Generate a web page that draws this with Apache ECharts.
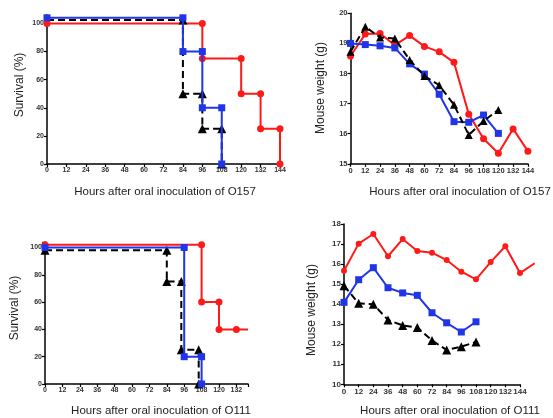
<!DOCTYPE html>
<html>
<head>
<meta charset="utf-8">
<script src="https://cdn.jsdelivr.net/npm/echarts@6/dist/echarts.min.js"></script>
<style>
  html, body { margin: 0; padding: 0; background: #fff; }
  #chart { width: 553px; height: 418px; }
</style>
</head>
<body>
<div id="chart"></div>
<script>
// survival O157 (step corners)
const s157RedT = [0, 96, 96, 120, 120, 132, 132, 144, 144]
const s157RedV = [100, 100, 75, 75, 50, 50, 25, 25, 0]
const s157BlueT = [0, 84, 84, 96, 96, 108, 108]
const s157BlueV = [104, 104, 80, 80, 40, 40, 0]
const s157BlackT = [0, 84, 84, 96, 96, 108, 108]
const s157BlackV = [102.5, 102.5, 50, 50, 25, 25, 0]

// survival O111
const s111RedT = [0, 108, 108, 120, 120, 132, 140]
const s111RedV = [102, 102, 60, 60, 40, 40, 40]
const s111BlueT = [0, 96, 96, 108, 108]
const s111BlueV = [100, 100, 20, 20, 0]
const s111BlackT = [0, 84, 84, 94, 94, 106, 106]
const s111BlackV = [98, 98, 75, 75, 25, 25, 0]

// mouse weight O157
const w157Hours = [0, 12, 24, 36, 48, 60, 72, 84, 96, 108, 120, 132, 144]
const w157Red = [18.58, 19.31, 19.33, 18.94, 19.26, 18.90, 18.72, 18.37, 16.65, 15.83, 15.35, 16.16, 15.42]
const w157Blue = [19.0, 18.96, 18.92, 18.85, 18.32, 17.98, 17.31, 16.40, 16.38, 16.62, 16.01]
const w157Black = [18.72, 19.55, 19.2, 19.16, 18.45, 17.92, 17.61, 16.96, 15.96, 16.42, 16.79]

// mouse weight O111
const w111Hours = [0, 12, 24, 36, 48, 60, 72, 84, 96, 108, 120, 132, 144, 156]
const w111Red = [15.67, 17.02, 17.50, 16.39, 17.25, 16.65, 16.57, 16.20, 15.62, 15.24, 16.10, 16.89, 15.55, 16.04]
const w111Blue = [14.09, 15.22, 15.82, 14.82, 14.56, 14.44, 13.57, 13.07, 12.61, 13.12]
const w111Black = [14.92, 14.04, 14.0, 13.21, 12.94, 12.83, 12.19, 11.71, 11.88, 12.11]

const RED = '#ff1a1a'
const BLUE = '#1f35e6'
const BLACK = '#000000'
const FONT = 'Liberation Sans, Arial, sans-serif'

const pairs = (t, v) => t.map((x, i) => [x, v[i]])

const chart = echarts.init(document.getElementById('chart'))

const axisBase = {
  axisLine: { lineStyle: { color: '#000', width: 1.5 } },
  axisTick: { inside: false, length: 3, lineStyle: { color: '#000', width: 1.2 } },
  splitLine: { show: false }
}

const xAx = (gi, max, size) => ({
  ...axisBase, type: 'value', gridIndex: gi, min: 0, max: max, interval: 12,
  axisLabel: { fontSize: size, fontWeight: 'bold', color: '#333', margin: 3,
    formatter: v => (v % 12 === 0 ? v : '') }
})
const yAx = (gi, min, max, iv, size) => ({
  ...axisBase, type: 'value', gridIndex: gi, min: min, max: max, interval: iv,
  axisLabel: { fontSize: size, fontWeight: 'bold', color: '#333', margin: 3,
    formatter: v => (v % iv === 0 ? v : '') }
})
// hidden axes used only to let the O111 weight red line run past the axis end
const hidden = (gi, min, max) => ({ type: 'value', gridIndex: gi, min: min, max: max, show: false })

const line = (idx, data, color, symbol, size, dashed, z) => ({
  type: 'line', xAxisIndex: idx, yAxisIndex: idx, data: data,
  symbol: symbol, symbolSize: size, showSymbol: true, clip: false,
  lineStyle: { color: color, width: 2, type: dashed ? [7, 4] : 'solid' },
  itemStyle: { color: color }, animation: false, z: z || 2
})

// a few points without markers
const s157Black = pairs(s157BlackT, s157BlackV)
s157Black[0] = { value: s157Black[0], symbol: 'none' }
const s111Red = pairs(s111RedT, s111RedV)
s111Red[s111Red.length - 1] = { value: s111Red[s111Red.length - 1], symbol: 'none' }
const w111RedData = pairs(w111Hours, w111Red)
w111RedData[w111RedData.length - 1] = { value: w111RedData[w111RedData.length - 1], symbol: 'none' }

const xTitle = { fontSize: 11.5, fill: '#222', fontFamily: FONT, align: 'center', verticalAlign: 'middle' }
const yTitle = { fontSize: 12, fill: '#222', fontFamily: FONT, align: 'center', verticalAlign: 'middle' }

chart.setOption({
  textStyle: { fontFamily: FONT },
  grid: [
    { left: 47, top: 15, width: 233, height: 149 },
    { left: 350.5, top: 13.3, width: 177.4, height: 150.5 },
    { left: 45, top: 242, width: 203, height: 142 },
    { left: 344, top: 224, width: 176, height: 160.3 },
    { left: 344, top: 224, width: 176 * 160 / 144, height: 160.3 }
  ],
  xAxis: [xAx(0, 144, 7), xAx(1, 144, 7.5), xAx(2, 140, 7), xAx(3, 144, 8), hidden(4, 0, 160)],
  yAxis: [yAx(0, 0, 106, 20, 7), yAx(1, 15, 20, 1, 7.5), yAx(2, 0, 104, 20, 7), yAx(3, 10, 18, 1, 8), hidden(4, 10, 18)],
  graphic: [
    { type: 'text', x: 165, y: 192, style: { ...xTitle, text: 'Hours after oral inoculation of O157' } },
    { type: 'text', x: 460, y: 192, style: { ...xTitle, text: 'Hours after oral inoculation of O157' } },
    { type: 'text', x: 161, y: 411, style: { ...xTitle, text: 'Hours after oral inoculation of O111' } },
    { type: 'text', x: 450, y: 411, style: { ...xTitle, text: 'Hours after oral inoculation of O111' } },
    { type: 'text', x: 20, y: 85, rotation: Math.PI / 2, style: { ...yTitle, text: 'Survival (%)' } },
    { type: 'text', x: 15, y: 308, rotation: Math.PI / 2, style: { ...yTitle, text: 'Survival (%)' } },
    { type: 'text', x: 321, y: 88, rotation: Math.PI / 2, style: { ...yTitle, text: 'Mouse weight (g)' } },
    { type: 'text', x: 312, y: 310, rotation: Math.PI / 2, style: { ...yTitle, text: 'Mouse weight (g)' } }
  ],
  series: [
    line(0, pairs(s157RedT, s157RedV), RED, 'circle', 7, false, 2),
    line(0, s157Black, BLACK, 'triangle', 9, true, 3),
    line(0, pairs(s157BlueT, s157BlueV), BLUE, 'rect', 7, false, 4),

    line(1, pairs(w157Hours, w157Red), RED, 'circle', 7, false, 2),
    line(1, pairs(w157Hours, w157Blue), BLUE, 'rect', 7, false, 3),
    line(1, pairs(w157Hours, w157Black), BLACK, 'triangle', 8, true, 4),

    line(2, s111Red, RED, 'circle', 7, false, 2),
    line(2, pairs(s111BlackT, s111BlackV), BLACK, 'triangle', 9, true, 3),
    line(2, pairs(s111BlueT, s111BlueV), BLUE, 'rect', 7, false, 4),

    line(4, w111RedData, RED, 'circle', 6, false, 2),
    line(3, pairs(w111Hours, w111Blue), BLUE, 'rect', 7, false, 3),
    line(3, pairs(w111Hours, w111Black), BLACK, 'triangle', 9, true, 4)
  ]
})
</script>
</body>
</html>
